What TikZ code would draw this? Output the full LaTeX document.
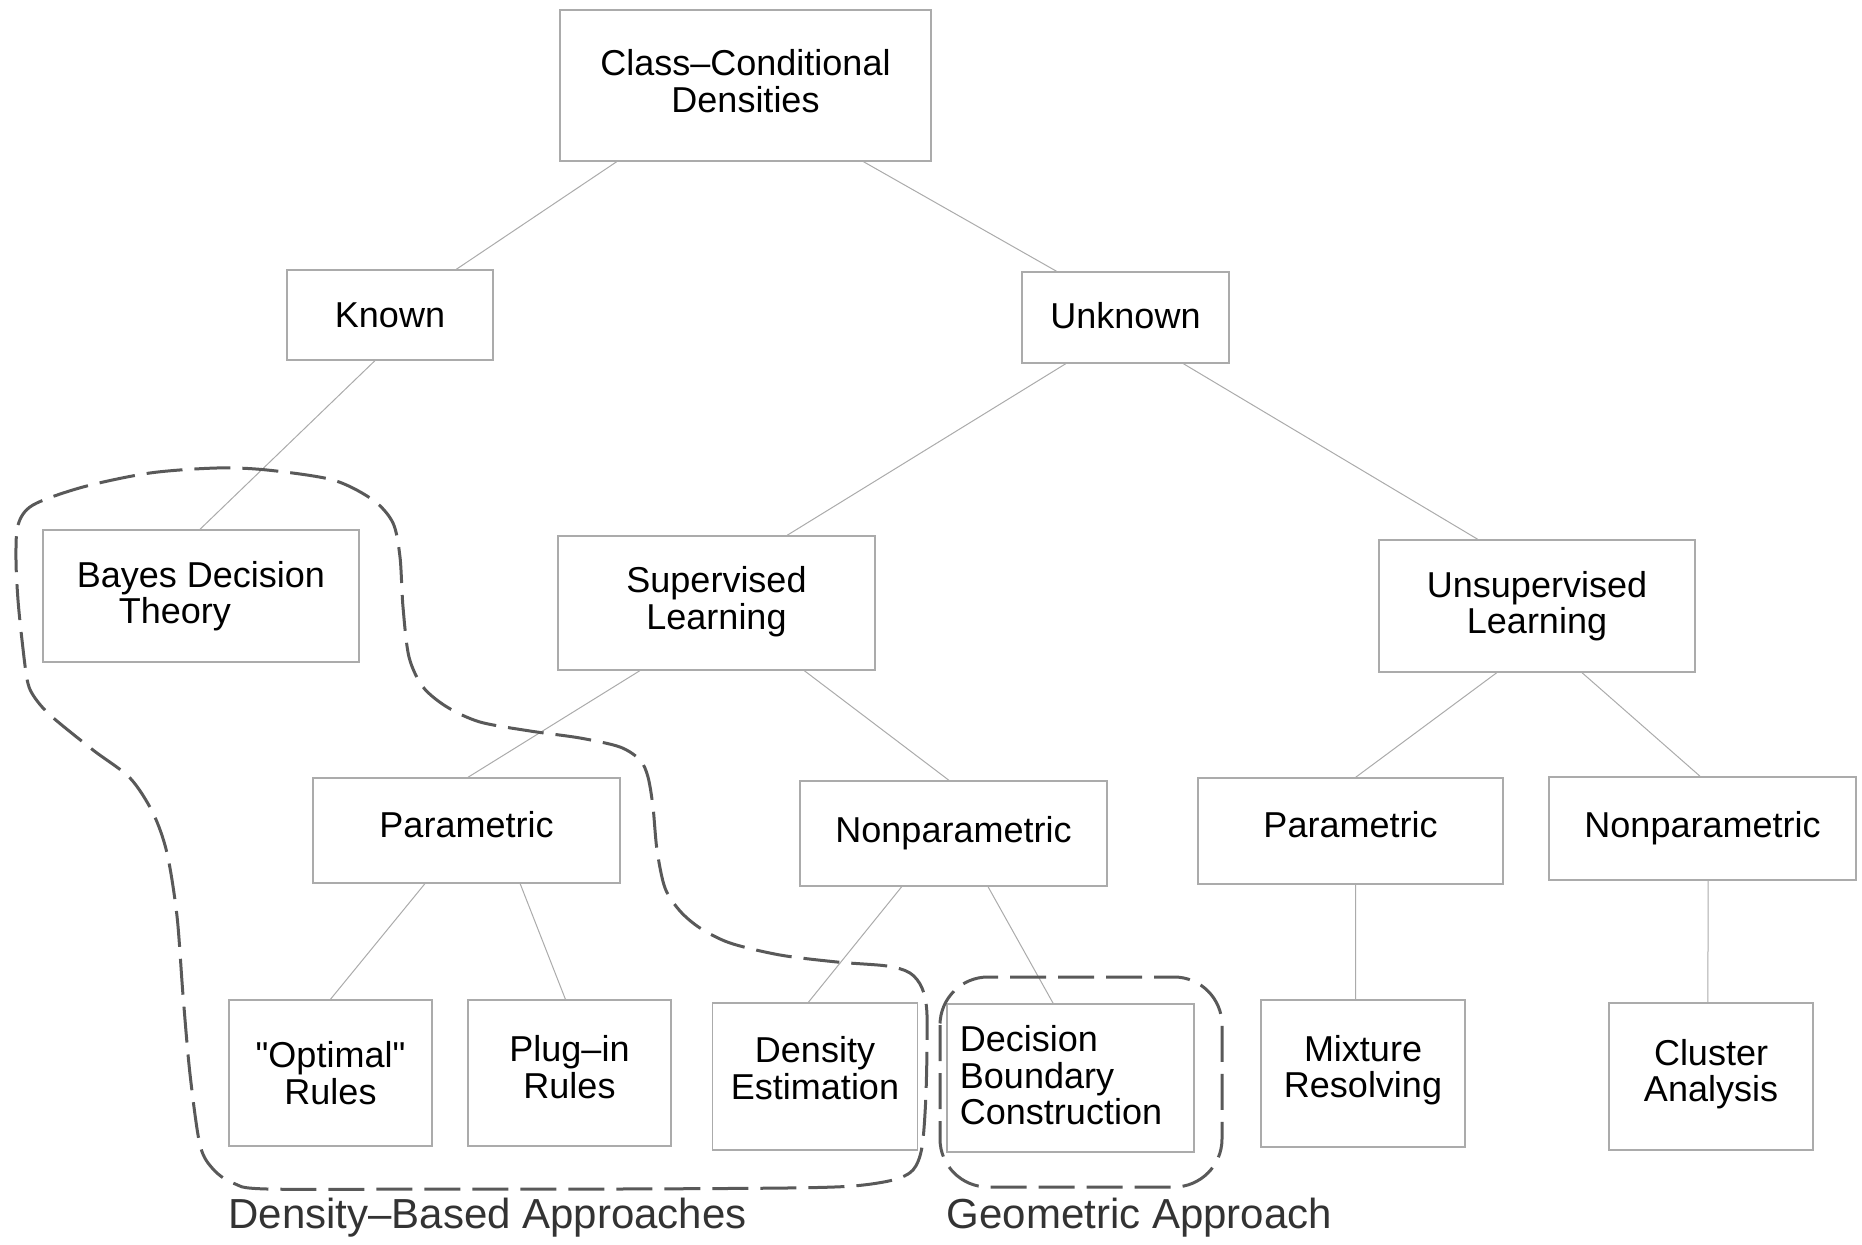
\documentclass[tikz,border=0pt]{standalone}
\usepackage{fontspec}
\setmainfont{Liberation Sans}
\usetikzlibrary{calc}
\newcommand\straightquote{\XeTeXglyph\XeTeXcharglyph"0022\relax}
\begin{document}
\begin{tikzpicture}[x=0.5pt,y=-0.5pt,
  box/.style={draw=black!33, line width=0.75pt, inner sep=0pt, align=center,
    font=\fontsize{18}{18.3}\selectfont, text=black},
  lift/.style={execute at end node={\rule[-#1]{0pt}{#1}}},
  link/.style={draw=black!33, line width=0.5pt},
  region/.style={draw=black!65, line width=1.5pt, dash pattern=on 18pt off 6pt},
  grouplabel/.style={font=\fontsize{21}{24}\selectfont, text=black!80, anchor=base, inner sep=0pt}]
\useasboundingbox (0,0) rectangle (1862,1245);

% boxes
\node[box, lift=4.8pt, minimum width=185.5pt, minimum height=75.5pt] (ccd) at (745.5,85.5) {Class–Conditional\\Densities};
\node[box, minimum width=103pt, minimum height=45pt] (known) at (390,315) {Known};
\node[box, lift=2.4pt, minimum width=103.5pt, minimum height=45.5pt] (unknown) at (1125.5,317.5) {Unknown};
\node[box, minimum width=158pt, minimum height=66pt, align=left] (bayes) at (201,596) {Bayes Decision\\\hspace*{21pt}Theory};
\node[box, lift=4.8pt, minimum width=158.5pt, minimum height=67pt] (sup) at (716.5,603) {Supervised\\Learning};
\node[box, minimum width=158pt, minimum height=66pt] (unsup) at (1537,606) {Unsupervised\\Learning};
\node[box, lift=6pt, minimum width=153.5pt, minimum height=52.5pt] (par1) at (466.5,830.5) {Parametric};
\node[box, minimum width=153.5pt, minimum height=52.5pt] (np1) at (953.5,833.5) {Nonparametric};
\node[box, lift=7pt, minimum width=152.5pt, minimum height=53pt] (par2) at (1350.5,831) {Parametric};
\node[box, minimum width=153.5pt, minimum height=51.5pt] (np2) at (1702.5,828.5) {Nonparametric};
\node[box, minimum width=101.5pt, minimum height=73pt] (optimal) at (330.5,1073) {\straightquote Optimal\straightquote\\Rules};
\node[box, lift=6pt, minimum width=101.5pt, minimum height=73pt] (plugin) at (569.5,1073) {Plug–in\\Rules};
\node[box, lift=8.3pt, minimum width=102.5pt, minimum height=73.5pt] (density) at (815,1076.5) {Density\\Estimation};
\node[box, lift=3pt, minimum width=123.5pt, minimum height=74pt, align=left] (decision) at (1070.5,1078) {Decision\\Boundary\\Construction\hspace*{9.5pt}};
\node[box, lift=7pt, minimum width=102pt, minimum height=73.5pt] (mixture) at (1363,1073.5) {Mixture\\Resolving};
\node[box, lift=6pt, minimum width=102pt, minimum height=73.5pt] (cluster) at (1711,1076.5) {Cluster\\Analysis};

% connectors
\draw[link] ($(ccd.south west)!0.154!(ccd.south east)$) -- ($(known.north west)!0.82!(known.north east)$);
\draw[link] ($(ccd.south west)!0.817!(ccd.south east)$) -- ($(unknown.north west)!0.169!(unknown.north east)$);
\draw[link] ($(known.south west)!0.427!(known.south east)$) -- ($(bayes.north west)!0.497!(bayes.north east)$);
\draw[link] ($(unknown.south west)!0.213!(unknown.south east)$) -- ($(sup.north west)!0.722!(sup.north east)$);
\draw[link] ($(unknown.south west)!0.778!(unknown.south east)$) -- ($(unsup.north west)!0.313!(unsup.north east)$);
\draw[link] ($(sup.south west)!0.259!(sup.south east)$) -- ($(par1.north west)!0.505!(par1.north east)$);
\draw[link] ($(sup.south west)!0.776!(sup.south east)$) -- ($(np1.north west)!0.485!(np1.north east)$);
\draw[link] ($(unsup.south west)!0.373!(unsup.south east)$) -- ($(par2.north west)!0.517!(par2.north east)$);
\draw[link] ($(unsup.south west)!0.642!(unsup.south east)$) -- ($(np2.north west)!0.492!(np2.north east)$);
\draw[link] ($(par1.south west)!0.365!(par1.south east)$) -- ($(optimal.north west)!0.5!(optimal.north east)$);
\draw[link] ($(par1.south west)!0.674!(par1.south east)$) -- ($(plugin.north west)!0.48!(plugin.north east)$);
\draw[link] ($(np1.south west)!0.332!(np1.south east)$) -- ($(density.north west)!0.468!(density.north east)$);
\draw[link] ($(np1.south west)!0.612!(np1.south east)$) -- ($(decision.north west)!0.43!(decision.north east)$);
\draw[link] ($(par2.south west)!0.517!(par2.south east)$) -- ($(mixture.north west)!0.464!(mixture.north east)$);
\draw[link] ($(np2.south west)!0.518!(np2.south east)$) -- ($(cluster.north west)!0.485!(cluster.north east)$);

% dashed regions
\draw[region] plot[smooth cycle, tension=0.5] coordinates {
  (16,560) (18,525) (33,505) (83,487) (150,473) (217,468) (267,470) (333,480)
  (373,500) (393,523) (400,557) (403,607) (409,657) (423,687) (447,707) (480,722)
  (530,731) (580,738) (620,747) (640,760) (648,777) (653,807) (657,850) (665,888)
  (680,911) (700,928) (730,943) (780,955) (837,962) (887,966) (910,973) (922,988)
  (927,1015) (926,1093) (922,1147) (913,1170) (893,1180) (853,1186) (787,1188)
  (620,1189) (450,1189) (267,1189) (233,1183) (213,1169) (200,1145) (190,1074)
  (183,995) (177,916) (167,853) (153,813) (130,778) (93,750) (50,715) (33,695)
  (27,679) (22,640) (18,600)};
\draw[region, rounded corners=24pt] (940,977) rectangle (1222,1187);

% group labels
\node[grouplabel] (dlabel) at (487.5,1228) {Density–Based Approaches};
\node[grouplabel] (glabel) at (1139.5,1228) {Geometric Approach};
\end{tikzpicture}
\end{document}
